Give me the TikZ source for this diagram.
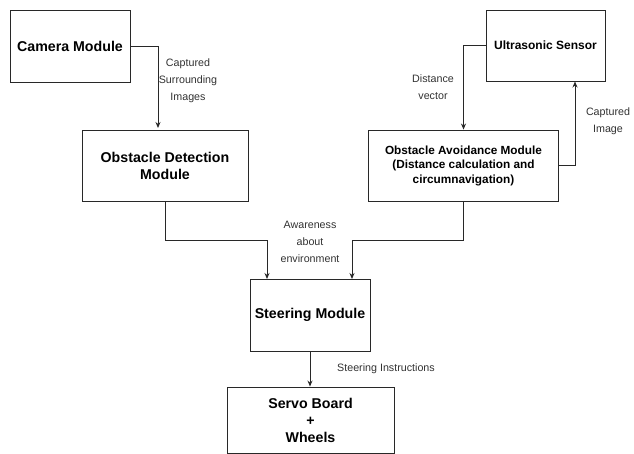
\documentclass[tikz,border=0pt]{standalone}
\usepackage{fontspec}
\setmainfont{Liberation Sans}
\usepackage{tikz}
\usetikzlibrary{arrows.meta}
\definecolor{DiagLineColor}{RGB}{40,40,40}
\definecolor{DiagTextColor}{RGB}{50,50,50}

\begin{document}
\begin{tikzpicture}[x=1pt,y=-1pt,line width=0.9pt,
   blk/.style n args={3}{draw=DiagLineColor,rectangle,inner sep=0pt,align=center,minimum width=#1pt,minimum height=#2pt,font=#3},
   lbl/.style={align=center,text=DiagTextColor,font=\fontsize{10.7}{17}\selectfont},
   arr/.style={-{Stealth[length=6pt,width=5pt]},draw=DiagLineColor}]
\useasboundingbox (0,0) rectangle (634,454);
\def\bigfont{\fontsize{14.2}{17}\selectfont\bfseries}
% blocks
\node[blk={120}{72}{\bigfont}](cam) at(70,46) {Camera Module};
\node[blk={166}{71}{\bigfont}](det) at(165,165.5) {Obstacle Detection\\Module};
\node[blk={119}{71}{\fontsize{12}{17}\selectfont\bfseries}](ult) at(545.5,45.5) {Ultrasonic Sensor};
\node[blk={190}{71}{\fontsize{11.8}{14.5}\selectfont\bfseries}](avd) at(463.5,165.5) {Obstacle Avoidance Module\\(Distance calculation and\\circumnavigation)};
\node[blk={120}{72}{\bigfont}](ste) at(310,315) {Steering Module};
\node[blk={167}{66}{\bigfont}](srv) at(310.5,420) {Servo Board\\+\\Wheels};
% connectors
\draw[arr] (cam.east) -| (158,128);
\draw[arr] (ult.west) -| (avd.north);
\draw[arr] (avd.east) -| (575,81.5);
\draw[arr] (det.south) |- (267,240) -- (267,279);
\draw[arr] (avd.south) |- (352,240) -- (352,279);
\draw[arr] (ste.south) -- (ste.south |- srv.north);
% labels
\node[lbl](l1) at(188,81) {Captured\\Surrounding\\Images};
\node[lbl](l2) at(433,87.5) {Distance\\vector};
\node[lbl](l3) at(608,121.5) {Captured\\Image};
\node[lbl](l4) at(310,242) {Awareness\\about\\environment};
\node[lbl](l5) at(386,369) {Steering Instructions};
\end{tikzpicture}
\end{document}
